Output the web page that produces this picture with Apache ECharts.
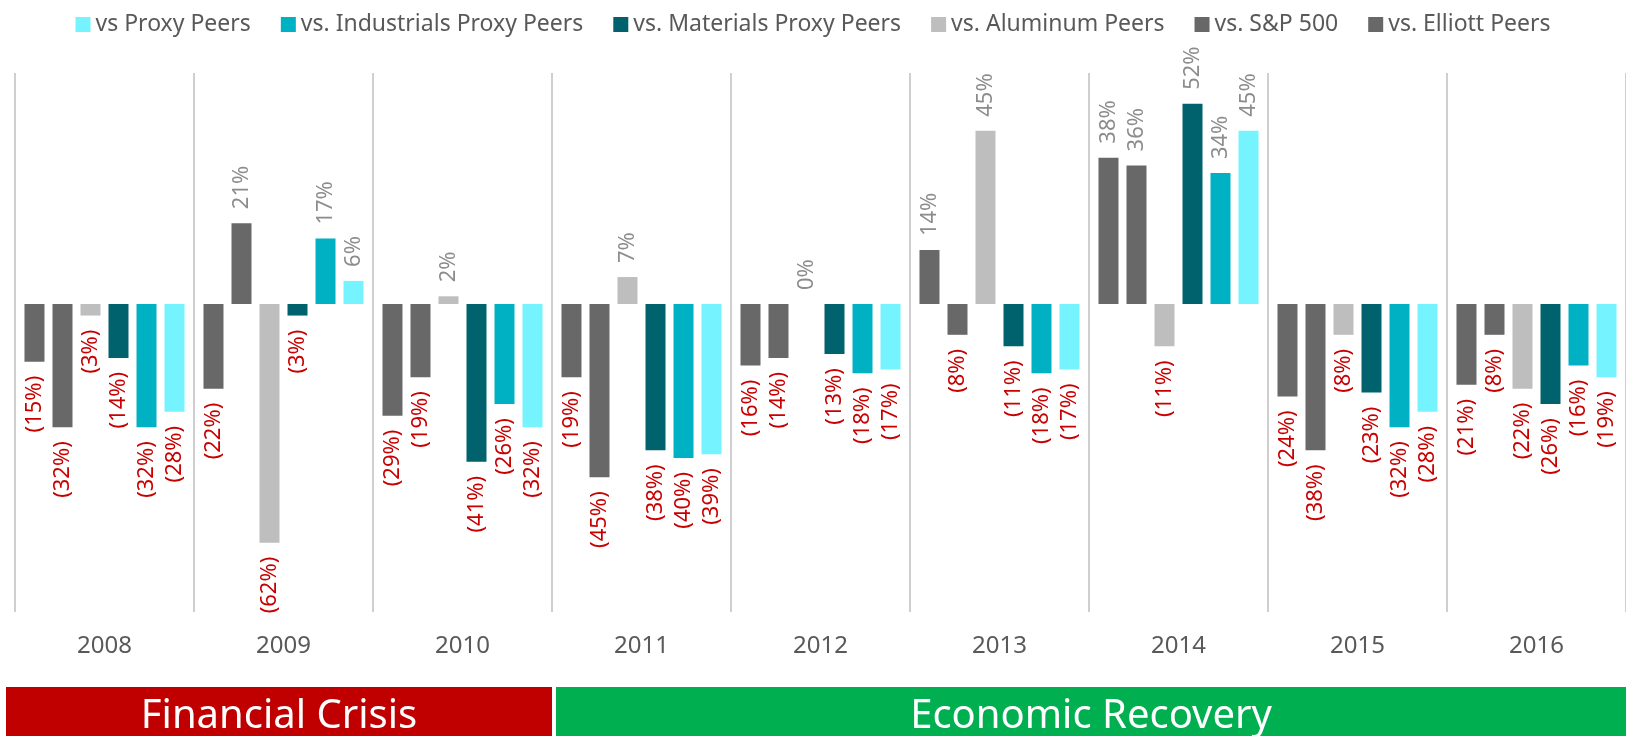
<!DOCTYPE html>
<html>
<head>
<meta charset="utf-8">
<style>
    html, body {margin: 0; padding: 0; background: #fff;}
    #chart {width: 1626px; height: 736px;}
</style>
<script src="https://cdn.jsdelivr.net/npm/echarts@6/dist/echarts.min.js"></script>
</head>
<body>
<div id="chart"></div>
<script>
    // 年份
    var years = ['2008', '2009', '2010', '2011', '2012', '2013', '2014', '2015', '2016'];

    // 相对表现 (%)，按柱子从左到右的顺序
    var elliottPeers = [-15, -22, -29, -19, -16, 14, 38, -24, -21];
    var sp500 = [-32, 21, -19, -45, -14, -8, 36, -38, -8];
    var aluminumPeers = [-3, -62, 2, 7, 0, 45, -11, -8, -22];
    var materialsPeers = [-14, -3, -41, -38, -13, -11, 52, -23, -26];
    var industrialsPeers = [-32, 17, -26, -40, -18, -18, 34, -32, -16];
    var proxyPeers = [-28, 6, -32, -39, -17, -17, 45, -28, -19];

    var legendOrder = ['vs Proxy Peers', 'vs. Industrials Proxy Peers', 'vs. Materials Proxy Peers',
        'vs. Aluminum Peers', 'vs. S&P 500', 'vs. Elliott Peers'];

    var font = 'Noto Sans';

    function labelled(values) {
        return values.map(function (v) {
            var neg = v < 0;
            return {
                value: v,
                label: {
                    position: neg ? 'bottom' : 'top',
                    align: neg ? 'right' : 'left',
                    color: neg ? '#C80000' : '#8C8C8C'
                }
            };
        });
    }

    function barSeries(name, values, color) {
        return {
            name: name,
            type: 'bar',
            barGap: '40%',
            barCategoryGap: '10.6%',
            itemStyle: {color: color},
            label: {
                show: true,
                rotate: 90,
                verticalAlign: 'middle',
                distance: 14,
                fontFamily: font,
                fontSize: 22,
                formatter: function (p) {
                    return p.value < 0 ? '(' + Math.abs(p.value) + '%)' : p.value + '%';
                }
            },
            data: labelled(values)
        };
    }

    var chart = echarts.init(document.getElementById('chart'));

    chart.setOption({
        animation: false,
        legend: {
            data: legendOrder,
            top: 8,
            left: 'center',
            icon: 'rect',
            itemWidth: 15,
            itemHeight: 15,
            itemGap: 30,
            textStyle: {
                color: '#595959',
                fontFamily: font,
                fontSize: 23
            }
        },
        grid: {
            left: 15,
            right: 0,
            top: 73,
            bottom: 124
        },
        xAxis: {
            type: 'category',
            data: years,
            axisLine: {show: false},
            axisTick: {show: false},
            axisLabel: {
                margin: 22,
                color: '#595959',
                fontFamily: font,
                fontSize: 24
            },
            splitLine: {
                show: true,
                interval: 0,
                lineStyle: {color: '#BFBFBF', width: 1.5}
            }
        },
        yAxis: {
            type: 'value',
            min: -80,
            max: 60,
            show: false
        },
        series: [
            barSeries('vs. Elliott Peers', elliottPeers, '#686868'),
            barSeries('vs. S&P 500', sp500, '#686868'),
            barSeries('vs. Aluminum Peers', aluminumPeers, '#BEBEBE'),
            barSeries('vs. Materials Proxy Peers', materialsPeers, '#00626C'),
            barSeries('vs. Industrials Proxy Peers', industrialsPeers, '#00B0C3'),
            barSeries('vs Proxy Peers', proxyPeers, '#75F3FF')
        ],
        graphic: [
            {type: 'rect', shape: {x: 6, y: 687, width: 546, height: 60}, style: {fill: '#C00000'}},
            {type: 'rect', shape: {x: 556, y: 687, width: 1075, height: 60}, style: {fill: '#00AF50'}},
            {type: 'text', x: 279, y: 717, style: {text: 'Financial Crisis', fill: '#fff', font: '40px "Noto Sans"', align: 'center', verticalAlign: 'middle'}},
            {type: 'text', x: 1091, y: 717, style: {text: 'Economic Recovery', fill: '#fff', font: '40px "Noto Sans"', align: 'center', verticalAlign: 'middle'}}
        ]
    });
</script>
</body>
</html>
